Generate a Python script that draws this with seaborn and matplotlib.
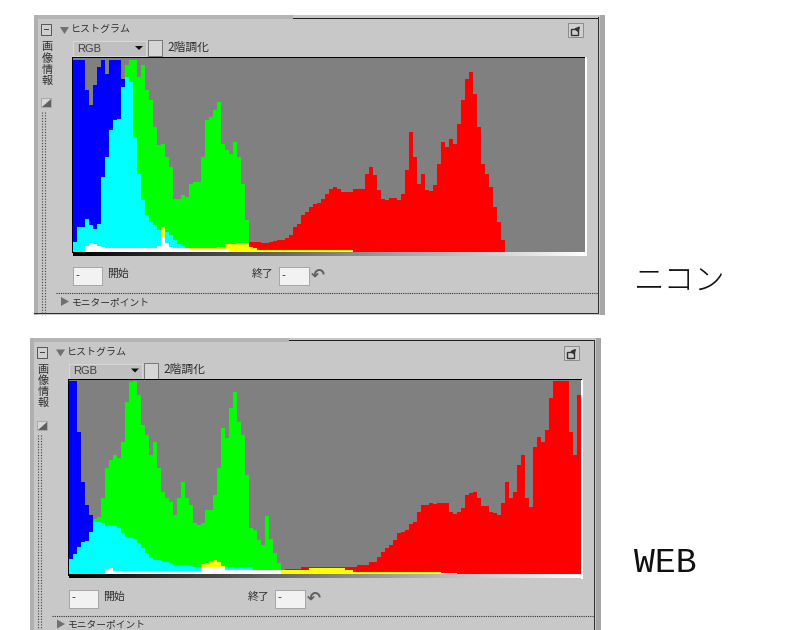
import numpy as np
import matplotlib
matplotlib.use('Agg')
import matplotlib.pyplot as plt
import seaborn as sns
from matplotlib.patches import Rectangle, Polygon

# heights in screen pixels above the baseline, one value per 4px bin
NIKON_RED = [0, 0, 0, 6, 9, 8, 6, 5, 4, 4, 4, 4, 4, 4, 4, 4, 4, 4, 4, 4, 4, 6, 25, 9, 5, 4, 4, 4, 4, 4, 4, 4, 4, 4, 4, 4,
             5, 5, 8, 8, 8, 9, 9, 9, 10, 10, 10, 9, 9, 10, 11, 12, 12, 14, 17, 25, 28, 37, 40, 45, 48, 49, 53, 58,
             63, 65, 63, 60, 60, 60, 63, 63, 63, 78, 85, 77, 62, 53, 52, 54, 54, 52, 58, 82, 120, 95, 68, 78, 62, 61,
             67, 88, 110, 105, 113, 108, 128, 152, 173, 180, 158, 125, 88, 78, 65, 45, 30, 12]
NIKON_GREEN = [10, 25, 25, 33, 27, 23, 28, 75, 95, 122, 132, 133, 165, 187, 192, 192, 175, 187, 162, 152, 125, 107,
               108, 95, 85, 53, 53, 57, 55, 68, 70, 70, 95, 132, 135, 142, 150, 108, 102, 98, 110, 95, 68, 32,
               5, 4, 2, 2, 2, 2, 2, 2, 2, 2, 2, 2, 2, 2, 2, 2, 2, 2, 2, 2, 2, 2, 2, 2, 2, 2]
NIKON_BLUE = [192, 192, 192, 162, 147, 167, 185, 192, 178, 192, 192, 192, 173, 175, 170, 115, 78, 52, 37, 30, 27, 22,
              15, 20, 17, 12, 8, 6, 4, 3, 3, 3, 3, 3, 3, 3, 3, 3, 3]

WEB_RED = [0, 0, 0, 0, 0, 0, 0, 0, 0, 5, 6, 3, 3, 3, 3, 3, 3, 3, 3, 3, 3, 3, 3, 3, 3, 3, 3, 3, 3, 3, 3, 3, 3,
           10, 11, 13, 14, 12, 8, 4, 4, 4, 4, 4, 4, 4, 4, 4, 4, 4, 4, 4, 4, 4, 5, 5, 5, 5, 7, 7, 7, 7, 7, 7, 7, 7,
           7, 7, 7, 7, 7, 7, 9, 9, 9, 12, 12, 17, 22, 26, 29, 34, 41, 42, 44, 50, 52, 62, 69, 69, 71, 70, 71, 71, 71,
           62, 60, 62, 66, 79, 81, 82, 76, 68, 68, 62, 61, 59, 71, 92, 76, 82, 109, 119, 76, 67, 127, 137, 132, 144,
           176, 193, 193, 193, 193, 142, 119, 179]
WEB_GREEN = [15, 20, 27, 32, 33, 42, 55, 57, 76, 106, 114, 119, 116, 132, 172, 192, 193, 179, 149, 139, 119, 132,
             106, 82, 76, 72, 59, 76, 92, 76, 69, 51, 49, 51, 64, 64, 79, 106, 146, 136, 166, 182, 152, 139, 99, 46,
             44, 34, 29, 58, 35, 21, 11, 4, 4, 4, 4, 4, 4, 4, 6, 6, 6, 6, 6, 6, 6, 6, 6, 4, 4, 2, 2, 2, 2, 2, 2, 2, 2,
             2, 2, 2, 2, 2, 2, 2, 2, 2, 2, 2, 2, 2, 2, 1, 1, 1, 1]
WEB_BLUE = [193, 193, 142, 92, 69, 59, 52, 52, 51, 48, 49, 49, 46, 41, 37, 36, 35, 31, 26, 21, 16, 14, 14, 13, 12,
            11, 9, 9, 9, 9, 8, 7, 7, 7, 7, 7, 7, 7, 7, 7, 7, 7, 7, 7, 7, 7, 4, 4, 4, 4, 4, 4, 4]

N_BINS = 128
PLOT_W, PLOT_H = 512, 194
FIG_W, FIG_H = 787, 630

PANEL_GRAY = '#c8c8c8'
TEXT_DARK = '#303030'


def pad(values):
    arr = np.zeros(N_BINS)
    arr[:len(values)] = values
    return arr


def draw_hist(fig, left, top, red, green, blue):
    ax = fig.add_axes([left / FIG_W, 1 - (top + PLOT_H) / FIG_H, PLOT_W / FIG_W, PLOT_H / FIG_H])
    ax.set_facecolor('#808080')
    r, g, b = pad(red), pad(green), pad(blue)
    layers = [(b, '#0000ff'), (g, '#00ff00'), (r, '#ff0000'),
              (np.minimum(g, b), '#00ffff'), (np.minimum(r, g), '#ffff00'),
              (np.minimum(np.minimum(r, g), b), '#ffffff')]
    bins = np.arange(N_BINS)
    for heights, color in layers:
        sns.histplot(x=bins + 0.5, weights=heights, bins=N_BINS, binrange=(0, N_BINS), element='step', fill=True,
                     color=color, alpha=1, linewidth=0, ax=ax)
    ax.set_xlim(0, N_BINS)
    ax.set_ylim(0, PLOT_H)
    ax.set_xticks([])
    ax.set_yticks([])
    ax.set_xlabel('')
    ax.set_ylabel('')
    for s in ax.spines.values():
        s.set_visible(False)
    return ax


def draw_panel(bg, ox, oy):
    def rect(x0, y0, x1, y1, fc, ec='none', lw=0, z=1):
        bg.add_patch(Rectangle((x0 + ox, y0 + oy), x1 - x0, y1 - y0, fc=fc, ec=ec, lw=lw, zorder=z))

    def tri(points, fc='#707070'):
        bg.add_patch(Polygon([(x + ox, y + oy) for x, y in points], fc=fc, ec='none', lw=0, zorder=4))

    def label(x, y, s, size=8.5, color=TEXT_DARK, **kw):
        bg.text(x + ox, y + oy, s, fontsize=size, color=color, va='center', zorder=5, **kw)

    # frame
    rect(34, 15, 605, 315, PANEL_GRAY)
    rect(34, 15, 293, 19, '#b4b4b4', z=2)
    rect(293, 17.5, 598, 18.5, '#202020', z=2)
    rect(34, 15, 38, 315, '#b0b0b0', z=2)
    rect(597.5, 17, 598.5, 314, '#303030', z=2)
    rect(600, 15, 605, 315, '#a6a6a6', z=2)
    rect(34, 312.7, 598, 313.7, '#303030', z=2)

    # header row
    rect(41, 24, 51, 35, '#d0d0d0', ec='#555555', lw=0.7, z=3)
    rect(43.5, 29, 48.5, 30, '#444444', z=4)
    tri([(60, 27), (69, 27), (64.5, 34)])
    label(71, 29, 'ヒストグラム', size=7.2)
    rect(568, 23, 583, 37, '#d0d0d0', ec='#8c8c8c', lw=0.7, z=3)
    rect(571, 29, 578, 35, 'none', ec='#333333', lw=1, z=4)
    bg.annotate('', xy=(582 + ox, 24 + oy), xytext=(575 + ox, 32 + oy), zorder=5,
                arrowprops=dict(arrowstyle='-|>', color='#333333', lw=1.2, mutation_scale=6))

    # side column
    label(47, 64, '画\n像\n情\n報', size=8, ha='center', linespacing=1.1)
    rect(41, 98, 51, 107, '#d8d8d8', ec='#999999', lw=0.5, z=3)
    tri([(42, 107), (51, 107), (51, 99)], fc='#606060')
    bg.plot([41.5 + ox] * 2, [112 + oy, 315 + oy], color='#404040', lw=0.8, ls=(0, (1, 1.5)), zorder=3)
    bg.plot([44.5 + ox] * 2, [112 + oy, 315 + oy], color='#404040', lw=0.8, ls=(0, (1, 1.5)), zorder=3)

    # selector row
    rect(73, 41, 146, 56, '#c0c0c0', ec='#e0e0e0', lw=0.5, z=3)
    label(77, 49, 'RGB', size=8, color='#404040', family='Liberation Sans')
    tri([(135, 46), (143, 46), (139, 50)], fc='#101010')
    rect(148, 40, 162, 56, '#d6d6d6', ec='#555555', lw=0.5, z=3)
    label(167, 47, '2階調化', size=8.5)

    # plot frame
    rect(72, 56.8, 586, 58, '#000000', z=3)
    rect(585, 57, 587, 256, '#ffffff', z=3)
    rect(72, 57, 73, 253, '#000000', z=3)
    strip = np.linspace(0, 1, 256).reshape(1, -1)
    bg.imshow(strip, extent=(73 + ox, 587 + ox, 256 + oy, 252 + oy), cmap='gray', aspect='auto', zorder=3)

    # range row
    rect(73, 267, 102, 285, '#f2f2f2', ec='#909090', lw=0.5, z=3)
    label(75, 276, '-', size=8)
    label(107, 274, '開始', size=7.8)
    label(252, 274, '終了', size=7.8)
    rect(279, 267, 309, 285, '#f2f2f2', ec='#909090', lw=0.5, z=3)
    label(281, 276, '-', size=8)
    label(311, 276, '↶', size=12, color='#606060', family='DejaVu Sans', weight='bold')

    # footer
    bg.plot([56 + ox, 598 + ox], [293 + oy, 293 + oy], color='#303030', lw=0.8, ls=(0, (1, 1)), zorder=3)
    tri([(61, 297), (61, 306), (69, 301.5)])
    label(72, 302, 'モニターポイント', size=7)


sns.set_style('white')
plt.rcParams['font.family'] = ['Noto Sans CJK JP', 'DejaVu Sans']

fig = plt.figure(figsize=(FIG_W / 100, FIG_H / 100), dpi=100, facecolor='white')
bg = fig.add_axes([0, 0, 1, 1])
bg.set_axis_off()

draw_panel(bg, 0, 0)
draw_panel(bg, -4, 322.5)
bg.set_xlim(0, FIG_W)
bg.set_ylim(FIG_H, 0)

draw_hist(fig, 73, 57.7, NIKON_RED, NIKON_GREEN, NIKON_BLUE)
draw_hist(fig, 69, 380, WEB_RED, WEB_GREEN, WEB_BLUE)

bg.text(633, 282, 'ニコン', fontsize=22, color='#101010', va='center', weight='light')
bg.text(634, 563, 'WEB', fontsize=25, color='#101010', va='center', family='Liberation Mono')

plt.savefig('out.png', dpi=100)
plt.close()
